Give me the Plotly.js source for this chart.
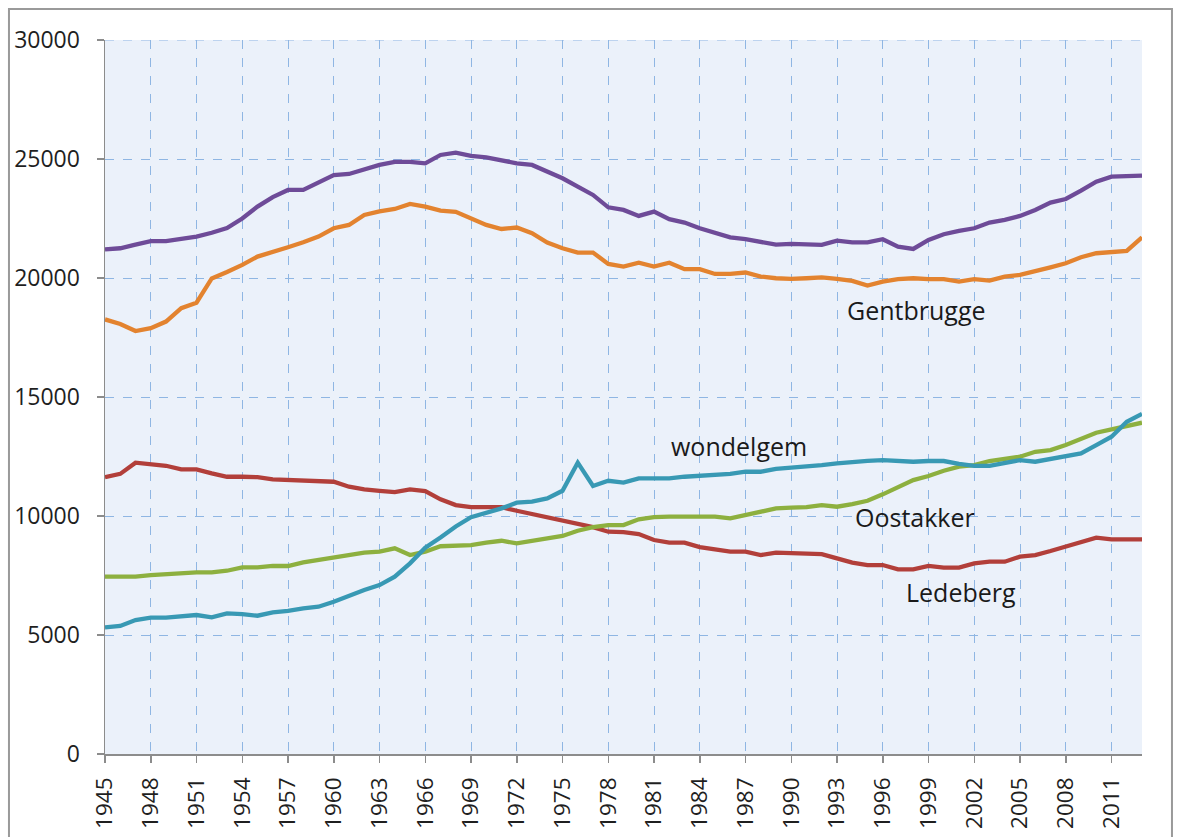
<!DOCTYPE html>
<html>
<head>
<meta charset="utf-8">
<script src="https://cdn.plot.ly/plotly-3.0.1.min.js"></script>
<style>
html,body{margin:0;padding:0;background:#fff;}
#chart{width:1183px;height:837px;}
</style>
</head>
<body>
<div id="chart"></div>
<script>
const years = [1945,1946,1947,1948,1949,1950,1951,1952,1953,1954,1955,1956,1957,1958,1959,1960,1961,1962,1963,1964,1965,1966,1967,1968,1969,1970,1971,1972,1973,1974,1975,1976,1977,1978,1979,1980,1981,1982,1983,1984,1985,1986,1987,1988,1989,1990,1991,1992,1993,1994,1995,1996,1997,1998,1999,2000,2001,2002,2003,2004,2005,2006,2007,2008,2009,2010,2011,2012,2013];

const tickYears = [1945,1948,1951,1954,1957,1960,1963,1966,1969,1972,1975,1978,1981,1984,1987,1990,1993,1996,1999,2002,2005,2008,2011];
const tickLabels = ["1945","1948","1951","1954","1957","1960","1963","1966","1969","1972","1975","1978","1981","1984","1987","1990","1993","1996","1999","2002","2005","2008","2011"];

const purpleSeries = [21200,21250,21400,21550,21550,21650,21740,21900,22100,22500,23000,23400,23700,23700,24000,24320,24370,24570,24750,24880,24880,24820,25170,25270,25130,25070,24930,24820,24750,24470,24190,23840,23490,22970,22860,22610,22790,22470,22330,22090,21880,21710,21630,21530,21400,21430,21430,21390,21570,21500,21500,21630,21320,21220,21600,21840,21980,22090,22330,22440,22610,22860,23170,23320,23670,24050,24260,24300,24300];

const gentbrugge = [18260,18070,17770,17890,18170,18730,18960,19980,20250,20550,20900,21080,21290,21500,21740,22090,22230,22650,22800,22900,23110,23000,22830,22780,22510,22230,22060,22120,21880,21490,21250,21070,21070,20590,20480,20640,20480,20640,20370,20370,20170,20170,20230,20060,19990,19960,19990,20030,19960,19880,19680,19850,19950,19990,19950,19950,19850,19950,19890,20060,20130,20270,20450,20620,20870,21040,21080,21140,21710];

const wondelgem = [5320,5380,5630,5730,5730,5800,5840,5740,5910,5880,5810,5950,6010,6120,6190,6400,6650,6890,7100,7450,8010,8670,9100,9560,9950,10140,10320,10560,10600,10740,11060,12240,11260,11480,11400,11580,11580,11580,11650,11690,11750,11770,11860,11860,11980,12020,12070,12140,12210,12280,12320,12350,12310,12280,12310,12310,12190,12110,12110,12240,12350,12280,12400,12490,12630,12980,13330,13960,14290];

const oostakker = [7450,7450,7450,7520,7560,7590,7630,7630,7700,7840,7840,7900,7900,8050,8150,8220,8360,8460,8500,8640,8360,8500,8730,8770,8780,8880,8960,8850,8960,9030,9160,9380,9530,9620,9620,9860,9950,9970,9970,9930,9970,9900,10040,10140,10320,10350,10370,10460,10390,10500,10640,10910,11210,11510,11680,11900,12070,12140,12310,12420,12490,12700,12770,12980,13260,13500,13640,13780,13920];

const ledeberg = [11630,11770,12240,12190,12110,11960,11960,11790,11650,11650,11630,11540,11510,11470,11470,11440,11230,11120,11060,11000,11120,11050,10700,10460,10370,10370,10370,10220,10080,9950,9830,9660,9530,9340,9320,9240,8990,8880,8880,8690,8600,8500,8500,8360,8460,8430,8400,8400,8220,8040,7940,7940,7760,7760,7900,7830,7830,8010,8080,8080,8290,8360,8530,8710,8880,9090,9020,9020,9020];

const seriesNames = ["Ledeberg","Oostakker","wondelgem","Gentbrugge","paars"];
const seriesColors = ["#b23f3a","#8db03f","#3899b4","#e3832f","#6e4b98"];
const seriesValues = [ledeberg, oostakker, wondelgem, gentbrugge, purpleSeries];

const labelTexts = ["Gentbrugge","wondelgem","Oostakker","Ledeberg"];
const labelX = [1998.2,1986.6,1998.1,2001.1];
const labelY = [18650,12950,9950,6800];

const traces = seriesValues.map((vals,i)=>({
  type:'scatter', mode:'lines', x:years, y:vals, name:seriesNames[i],
  line:{color:seriesColors[i], width:4.3}, showlegend:false, hoverinfo:'x+y'
}));

const font = {family:'"Open Sans", "Noto Sans", sans-serif', color:'#1f1f1f'};

const layout = {
  width:1183, height:837,
  margin:{l:105, r:41, t:40, b:83, pad:0},
  paper_bgcolor:'#ffffff',
  plot_bgcolor:'#ebf1fa',
  font:font,
  showlegend:false,
  xaxis:{
    range:[1945,2013], tickmode:'array', tickvals:tickYears, ticktext:tickLabels,
    tickangle:-90, tickfont:{size:22.5, color:'#1f1f1f', family:font.family},
    showgrid:true, gridcolor:'#8fb6e3', griddash:'dash', gridwidth:1,
    showline:true, linecolor:'#8c8c8c', linewidth:1.5,
    ticks:'outside', ticklen:7, tickcolor:'#8c8c8c', tickwidth:1.5,
    zeroline:false, fixedrange:true, ticklabelstandoff:6
  },
  yaxis:{
    range:[0,30000], tickmode:'linear', tick0:0, dtick:5000, tickformat:'d',
    tickfont:{size:23, color:'#1f1f1f', family:font.family},
    showgrid:true, gridcolor:'#8fb6e3', griddash:'dash', gridwidth:1,
    showline:true, linecolor:'#8c8c8c', linewidth:1.5,
    ticks:'outside', ticklen:7, tickcolor:'#8c8c8c', tickwidth:1.5,
    zeroline:false, fixedrange:true, ticklabelstandoff:12
  },
  annotations: labelTexts.map((t,i)=>({
    x:labelX[i], y:labelY[i], xref:'x', yref:'y', text:t, showarrow:false,
    xanchor:'center', yanchor:'middle',
    font:{size:25, color:'#1a1a1a', family:font.family}
  })),
  shapes:[
    {type:'line', xref:'paper', yref:'y', x0:0, x1:1, y0:30000, y1:30000,
     line:{color:'#8fb6e3', width:1, dash:'dash'}, layer:'below'},
    {type:'rect', xref:'paper', yref:'paper', x0:-0.0926, x1:1.0289, y0:-0.14, y1:1.0434,
     line:{color:'#9a9a9a', width:2}, fillcolor:'rgba(0,0,0,0)'}
  ]
};

Plotly.newPlot('chart', traces, layout, {displayModeBar:false, staticPlot:true});
</script>
</body>
</html>
